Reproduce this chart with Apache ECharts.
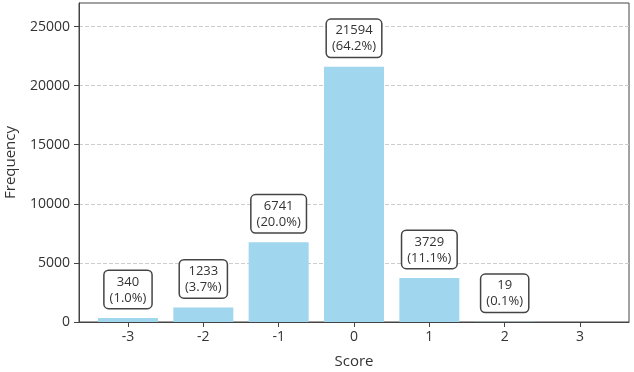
<!DOCTYPE html>
<html><head><meta charset="utf-8">
<script src="https://cdn.jsdelivr.net/npm/echarts@6/dist/echarts.min.js"></script>
<style>html,body{margin:0;padding:0;background:#fff}#c{width:634px;height:372px}</style>
</head><body><div id="c"></div>
<script>
const scores = [-3, -2, -1, 0, 1, 2, 3];
const frequencies = [340, 1233, 6741, 21594, 3729, 19, 0];
const yTicks = [0, 5000, 10000, 15000, 20000, 25000];
const total = frequencies.reduce((a, b) => a + b, 0);
const font = 'Open Sans';
const chart = echarts.init(document.getElementById('c'));
chart.setOption({
  animation: false,
  grid: {left: 79, right: 5, top: 3, bottom: 50, show: true, borderColor: '#444', borderWidth: 1,
    containLabel: false, outerBoundsMode: 'none'},
  xAxis: {
    type: 'value', min: -3.65, max: 3.65,
    name: 'Score', nameLocation: 'middle', nameGap: 32,
    nameTextStyle: {fontFamily: font, fontSize: 15, color: '#333'},
    axisLine: {show: true, onZero: false, lineStyle: {color: '#444'}},
    axisTick: {show: true, customValues: scores, length: 5, lineStyle: {color: '#444'}},
    axisLabel: {customValues: scores, fontFamily: font, fontSize: 14, color: '#333', margin: 8,
      formatter: v => String(v)},
    splitLine: {show: false}
  },
  yAxis: {
    type: 'value', min: 0, max: 26992,
    name: 'Frequency', nameLocation: 'middle', nameGap: 61, nameRotate: 90,
    nameTextStyle: {fontFamily: font, fontSize: 15, color: '#333'},
    axisLine: {show: true, onZero: false, lineStyle: {color: '#444'}},
    axisTick: {show: true, customValues: yTicks, length: 5, lineStyle: {color: '#444'}},
    axisLabel: {customValues: yTicks, fontFamily: font, fontSize: 14, color: '#333', margin: 9,
      formatter: v => String(v)},
    splitLine: {show: true, customValues: yTicks, lineStyle: {color: '#ccc', type: 'dashed', width: 1}}
  },
  series: [{
    type: 'bar', barWidth: 60,
    itemStyle: {color: '#a0d6ee'},
    data: scores.map((s, i) => ({
      value: [s, frequencies[i]],
      label: {show: frequencies[i] > 0}
    })),
    label: {
      position: 'top', distance: 10,
      formatter: p => p.value[1] + '\n(' + (p.value[1] / total * 100).toFixed(1) + '%)',
      fontFamily: font, fontSize: 13, color: '#333', lineHeight: 16,
      backgroundColor: '#fff', borderColor: '#444', borderWidth: 1.5, borderRadius: 4,
      padding: [3, 5, 2, 5]
    }
  }]
});
</script></body></html>
